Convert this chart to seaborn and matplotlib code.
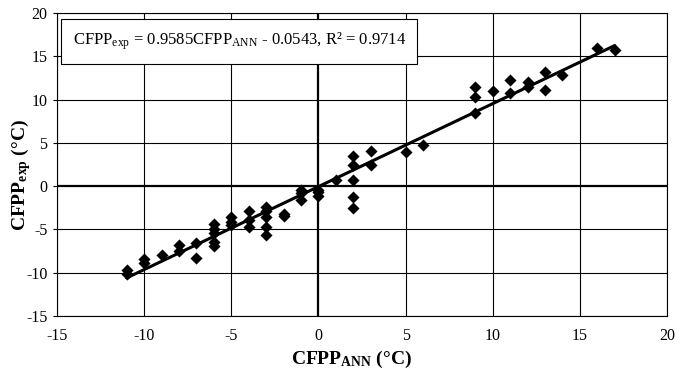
import numpy as np
import pandas as pd
import matplotlib
matplotlib.use("Agg")
import matplotlib.pyplot as plt
import seaborn as sns

# ---- data ----
cfpp_ann = [-11, -11, -10, -10, -9, -8, -8, -7, -7,
            -6, -6, -6, -6, -6, -5, -5, -5, -4, -4, -4,
            -3, -3, -3, -3, -3, -2, -2, -1, -1, -1, 0, 0, 0,
            1, 2, 2, 2, 2, 2, 3, 3, 5, 6,
            9, 9, 9, 10, 11, 11, 12, 12, 13, 13, 14, 16, 17]
cfpp_exp = [-9.7, -10.1, -8.45, -8.9, -7.9, -6.8, -7.5, -6.6, -8.3,
            -4.4, -4.9, -5.4, -6.4, -6.9, -3.6, -4.1, -4.5, -2.9, -3.9, -4.7,
            -2.4, -2.9, -3.6, -4.7, -5.6, -3.2, -3.5, -0.45, -0.8, -1.65, -0.45, -0.7, -1.1,
            0.7, 3.5, 2.4, 0.7, -1.2, -2.5, 4.1, 2.4, 4.0, 4.8,
            11.5, 10.3, 8.4, 11.0, 12.3, 10.8, 12.0, 11.4, 13.2, 11.1, 12.8, 15.9, 15.7]
slope = 0.9585
intercept = -0.0543
r2 = 0.9714
ticks = [-15, -10, -5, 0, 5, 10, 15, 20]

df = pd.DataFrame({"ann": cfpp_ann, "exp": cfpp_exp})
x_fit = np.array([min(cfpp_ann), max(cfpp_ann)])
fit = pd.DataFrame({"ann": x_fit, "exp": slope * x_fit + intercept})

sns.set_theme(style="white")
plt.rcParams["font.family"] = ["Liberation Serif", "DejaVu Serif"]
plt.rcParams["mathtext.fontset"] = "custom"
plt.rcParams["mathtext.rm"] = "Liberation Serif"
plt.rcParams["mathtext.it"] = "Liberation Serif:italic"
plt.rcParams["mathtext.bf"] = "Liberation Serif:bold"

fig = plt.figure(figsize=(6.77, 3.72), dpi=100)
ax = fig.add_axes([57 / 677, 56 / 372, 610 / 677, 303 / 372])

for t in ticks:
    lw = 1.6 if t == 0 else 0.8
    ax.axvline(t, color="black", lw=lw, zorder=1)
    ax.axhline(t, color="black", lw=lw, zorder=1)

sns.lineplot(data=fit, x="ann", y="exp", color="black", lw=2.2, ax=ax, zorder=3)
sns.scatterplot(data=df, x="ann", y="exp", marker="D", s=38, color="black",
                edgecolor="black", linewidth=0, ax=ax, zorder=4)

ax.set_xlim(-15, 20)
ax.set_ylim(-15, 20)
ax.set_xticks(ticks)
ax.set_yticks(ticks)
ax.set_xticklabels([str(t) for t in ticks])
ax.set_yticklabels([str(t) for t in ticks])
ax.tick_params(axis="x", length=0, pad=9, labelsize=11.5, colors="black")
ax.tick_params(axis="y", length=3, width=0.8, pad=4, labelsize=11.5, colors="black", direction="out", left=True)
for s in ax.spines.values():
    s.set_color("black")
    s.set_linewidth(0.8)

ax.set_xlabel(r"CFPP$_{\mathbf{ANN}}$ (°C)", fontsize=14, fontweight="bold", color="black")
ax.set_ylabel(r"CFPP$_{\mathbf{exp}}$ (°C)", fontsize=14, fontweight="bold", color="black")
ax.xaxis.set_label_coords(0.482, -0.11)
ax.yaxis.set_label_coords(-0.040, 0.465)

eq = (r"CFPP$_{\mathrm{exp}}$ = " + f"{slope:.4f}" + r"CFPP$_{\mathrm{ANN}}$ - "
      + f"{abs(intercept):.4f}, R² = {r2:.4f}")
ax.text(0.299, 0.906, eq, transform=ax.transAxes, ha="center", va="center",
        fontsize=12, color="black", zorder=5,
        bbox=dict(boxstyle="square,pad=0.68", facecolor="white", edgecolor="black", linewidth=0.8))

fig.savefig("out.png", dpi=100)
